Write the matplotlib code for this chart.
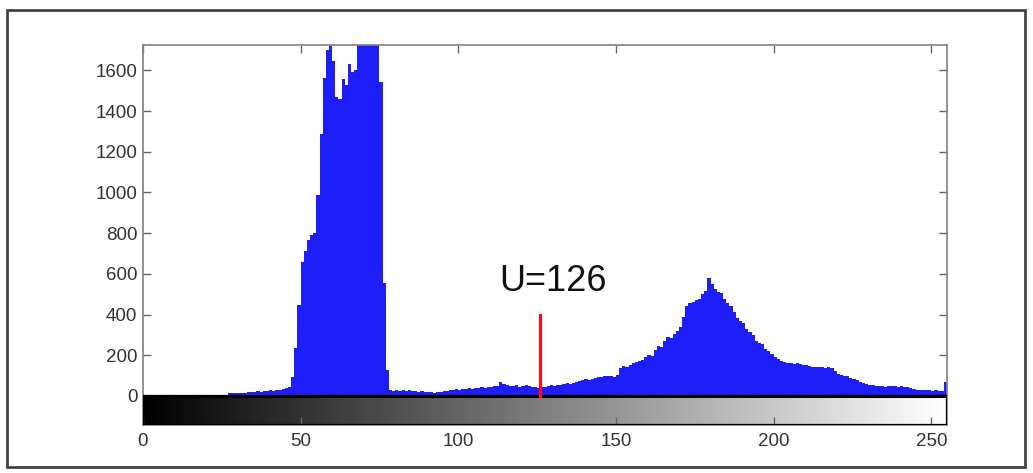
import numpy as np
import matplotlib
matplotlib.use('Agg')
import matplotlib.pyplot as plt
from matplotlib.patches import Rectangle

plt.rcParams['font.family'] = ['Liberation Sans', 'DejaVu Sans']

# histogram counts per grey level
counts = np.zeros(256)
low_left = [12, 13, 14, 15, 15, 16, 18, 17, 20, 22, 20, 25, 22, 27, 25, 28, 30, 33, 38, 45]   # 27..46
peak_one = [95, 236, 448, 660, 710, 767, 792, 800, 990, 1285, 1565, 1700, 1720, 1645, 1470,
            1460, 1560, 1530, 1630, 1590, 1600, 1760, 1800, 1850, 1900, 1850, 1800, 1760,
            1545, 555, 128]                                                                   # 47..77
valley = [30, 25, 28, 25, 30, 24, 28, 22, 25, 20, 22, 18, 17, 20, 15, 18, 20, 22, 25, 30,
          28, 32, 30, 35, 32, 38, 35, 40, 38, 42, 40, 45, 42, 50, 48, 70, 60, 55, 50, 48,
          52, 45, 48, 55, 50, 45, 42, 40, 45]                                                 # 78..126
peak_two = [45, 48, 52, 50, 55, 52, 60, 62, 58, 65, 68, 72, 78, 82, 80, 85, 90, 95, 92, 98,
            96, 100, 95, 102, 135, 145, 140, 152, 160, 165, 170, 178, 190, 200, 198, 225,
            245, 240, 270, 290, 285, 305, 320, 340, 390, 440, 455, 460, 470, 475, 500, 515,
            580, 550, 525, 510, 505, 475, 455, 440, 410, 385, 370, 360, 330, 315, 300, 270,
            262, 255, 232, 222, 205, 190, 180, 172, 165, 162, 160, 158, 160, 155, 152, 150,
            145, 142, 140, 143, 140, 138, 140, 135, 120, 108, 105, 100, 98, 90, 85, 78, 70,
            65, 60, 55, 52, 50, 48, 50, 46, 48, 50, 47, 45, 48, 44, 46, 40, 35, 30, 28, 30,
            27, 28, 26, 28, 25, 24, 70, 20]                                                   # 127..255
counts[27:47] = low_left
counts[47:78] = peak_one
counts[78:127] = valley
counts[127:256] = peak_two
bin_edges = np.arange(257)

threshold = 126
marker_top = 400
label = 'U=126'

x_ticks = [0, 50, 100, 150, 200, 250]
y_ticks = [0, 200, 400, 600, 800, 1000, 1200, 1400, 1600]

fig = plt.figure(figsize=(10.33, 4.73), dpi=100)
ax = fig.add_axes([0.1384, 0.1015, 0.7784, 0.8034])

blue = '#1e1ef8'
ax.stairs(counts, bin_edges, fill=True, color=blue, zorder=2)

# grey ramp under the histogram
ramp = np.linspace(0, 1, 256).reshape(1, -1)
ax.imshow(ramp, cmap='gray', aspect='auto', extent=[0, 255, -143, 0], zorder=1)
ax.add_patch(Rectangle((0, -143), 255, 143, fill=False, edgecolor='black', lw=1.6, zorder=3))
ax.axhline(0, color='black', lw=2.2, zorder=4)

ax.plot([threshold, threshold], [0, marker_top], color='#ff0a1e', lw=2.3, zorder=5)
ax.text(threshold + 4, 515, label, fontsize=26, ha='center', va='baseline', color='#111111')

ax.set_xlim(0, 255)
ax.set_ylim(-143, 1725)
ax.set_xticks(x_ticks)
ax.set_yticks(y_ticks)
ax.tick_params(direction='in', length=6, width=1, color='#666666', labelcolor='#333333',
               labelsize=13.5, top=True, right=True)
ax.tick_params(axis='y', pad=4)
ax.tick_params(axis='x', pad=6)
for s in ax.spines.values():
    s.set_color('#808080')
    s.set_linewidth(1.2)

# outer frame
fig.patches.append(Rectangle((0.007, 0.013), 0.985, 0.966, transform=fig.transFigure,
                             fill=False, edgecolor='#444444', lw=2))

fig.savefig('out.png', dpi=100)
